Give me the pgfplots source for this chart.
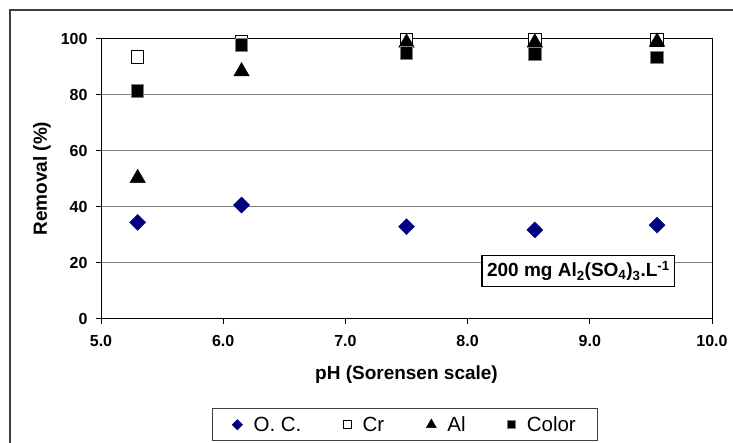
\documentclass[border=0pt]{standalone}
\usepackage{fontspec}
\setmainfont{Liberation Sans}
\usepackage{pgfplots}
\pgfplotsset{compat=1.18}
\definecolor{ocblue}{RGB}{0,0,128}
\definecolor{gridgray}{RGB}{128,128,128}
\definecolor{framegray}{RGB}{64,64,64}

\begin{document}
\begin{tikzpicture}[x=1pt,y=1pt]
\useasboundingbox (0,0) rectangle (733,443);
% outer chart frame (cut at right and bottom)
\draw[line width=1.2pt, framegray] (745,433) -- (10,433) -- (10,-10);
\begin{axis}[
    at={(101pt,124.3pt)}, anchor=south west,
    width=611pt, height=280pt, scale only axis,
    xmin=5, xmax=10, ymin=0, ymax=100,
    xtick={5,6,...,10}, ytick={0,20,...,100},
    ymajorgrids,
    grid style={gridgray, line width=1pt},
    axis line style={black, line width=1pt},
    tick style={black, line width=1pt},
    tick align=outside, major tick length=5pt,
    xtick pos=bottom, ytick pos=left,
    /pgf/number format/assume math mode=true,
    xticklabel style={yshift=-8pt, /pgf/number format/.cd, fixed, fixed zerofill, precision=1},
    yticklabel style={xshift=-5pt},
    ticklabel style={font=\fontsize{16}{19}\selectfont\bfseries},
    xlabel={pH (Sorensen scale)},
    ylabel={Removal (\%)},
    label style={font=\fontsize{19}{23}\selectfont\bfseries},
    xlabel style={at={(axis description cs:0.5,-0.2)}, anchor=center},
    ylabel style={at={(axis description cs:-0.0966,0.5)}, anchor=center},
    legend columns=4,
    legend style={at={(rel axis cs:0.4975,-0.319)}, anchor=north,
        draw=framegray, line width=1pt,
        font=\fontsize{20.5}{24}\selectfont,
        inner xsep=20pt, inner ysep=6pt,
        /tikz/every odd column/.append style={column sep=9pt},
        /tikz/every even column/.append style={column sep=40pt}},
    legend image post style={scale=0.65},
]
\addplot[only marks, mark=square*, mark size=5.7pt,
    mark options={rotate=45, fill=ocblue, draw=ocblue, line width=0.3pt}]
    coordinates {(5.3,34.4)(6.15,40.6)(7.5,32.9)(8.55,31.7)(9.55,33.4)};
\addlegendentry{O. C.}
\addplot[only marks, mark=square*, mark size=6.3pt,
    mark options={fill=white, draw=black, line width=1pt}]
    coordinates {(5.3,93.5)(6.15,98.8)(7.5,99.5)(8.55,99.6)(9.55,99.6)};
\addlegendentry{Cr}
\addplot[only marks, mark=triangle*, mark size=9pt,
    mark options={fill=black, draw=black, line width=0.3pt}]
    coordinates {(5.3,50.2)(6.15,88.3)(7.5,98.6)(8.55,98.6)(9.55,98.9)};
\addlegendentry{Al}
\addplot[only marks, mark=square*, mark size=6.3pt,
    mark options={fill=black, draw=gridgray, line width=1pt}]
    coordinates {(5.3,81.3)(6.15,97.8)(7.5,94.8)(8.55,94.5)(9.55,93.3)};
\addlegendentry{Color}
\node[draw=black, fill=white, line width=1.2pt, inner xsep=5pt, inner ysep=5.5pt,
    font=\fontsize{19}{23}\selectfont\bfseries]
    at (axis cs:8.907,17.0)
    {200 mg Al\textsubscript{2}(SO\textsubscript{4})\textsubscript{3}.L\textsuperscript{-1}};
\end{axis}
\end{tikzpicture}
\end{document}
